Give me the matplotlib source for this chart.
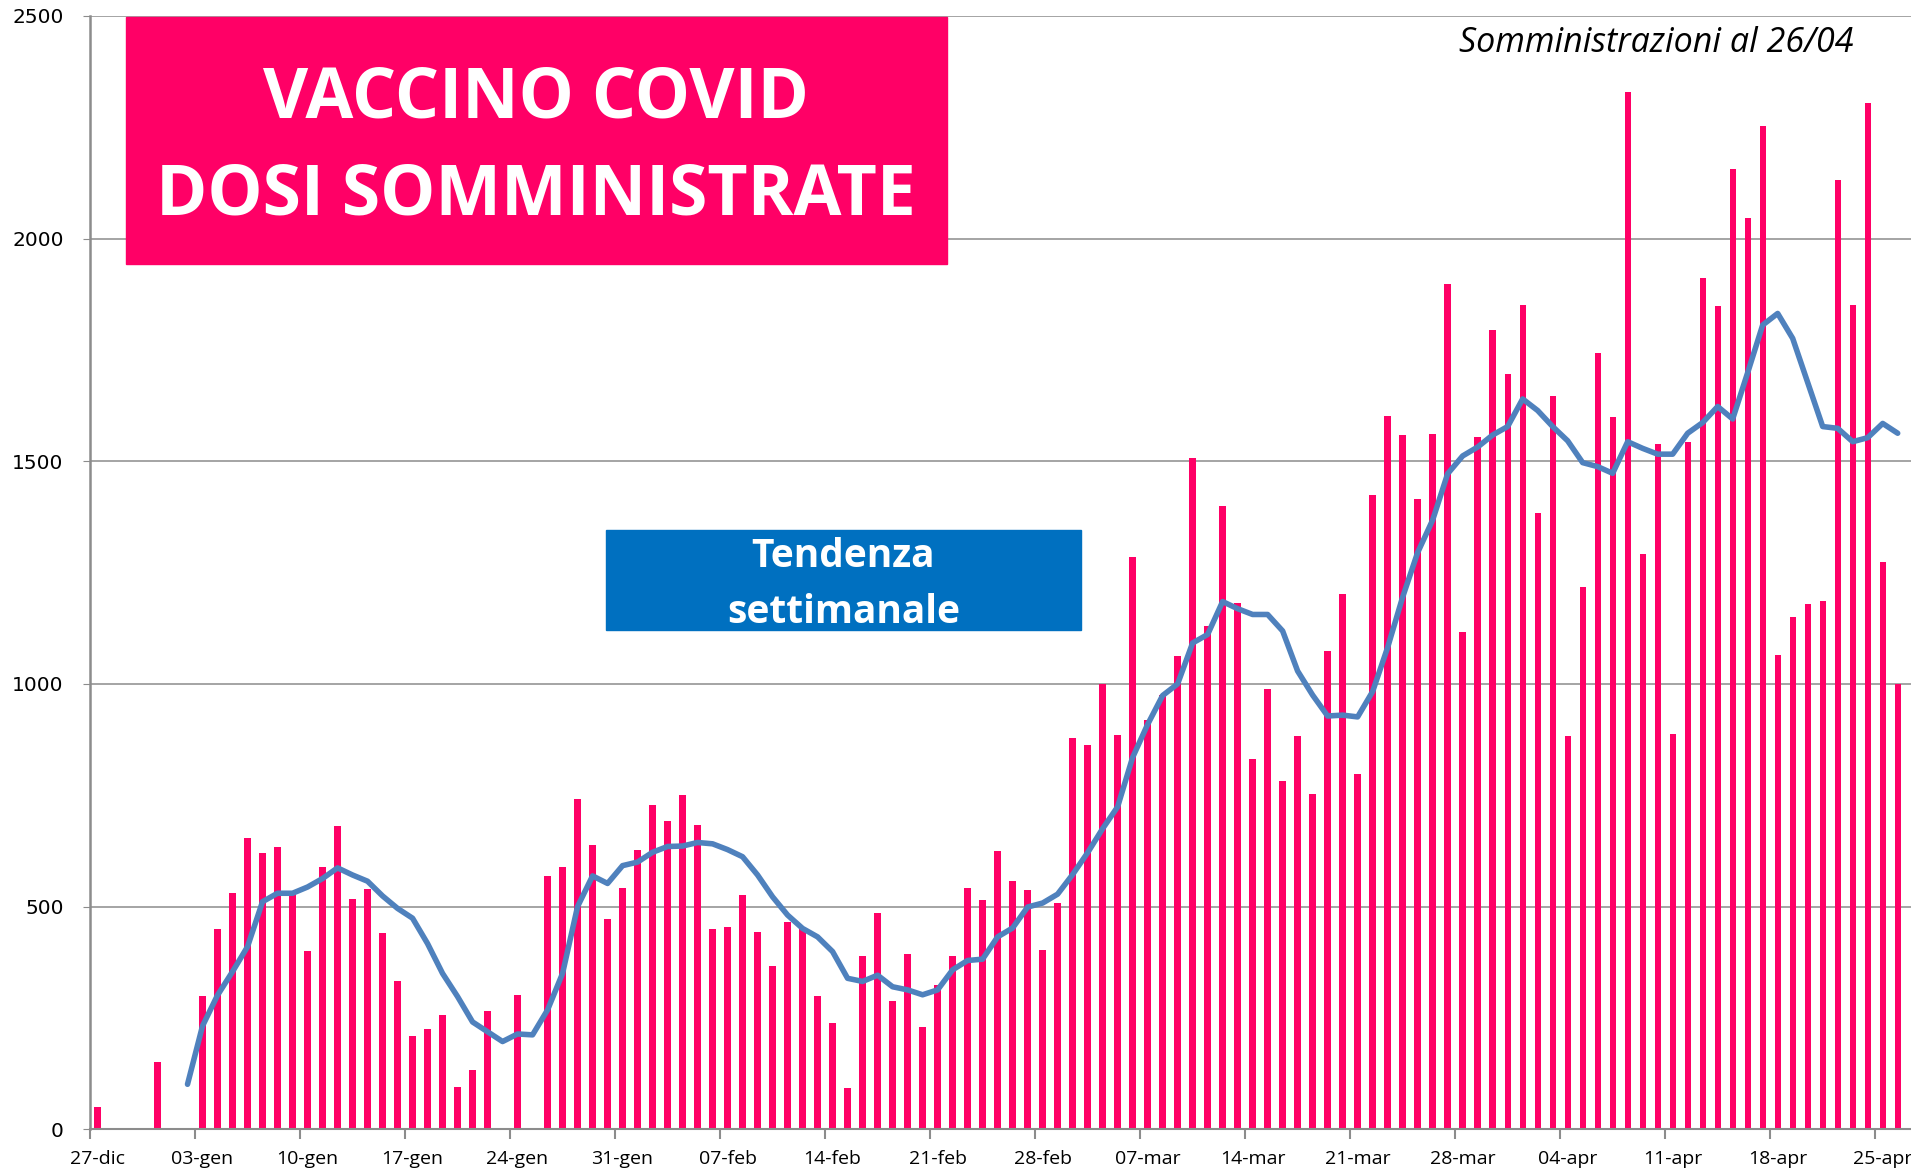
import numpy as np
import matplotlib
matplotlib.use('Agg')
import matplotlib.pyplot as plt
from matplotlib.patches import Rectangle

# daily doses, 27-dic ... 26-apr (121 days)
doses = [50, 0, 0, 0, 150, 0, 0, 300, 450, 530, 653, 620, 634, 530, 400, 590,
         680, 516, 540, 440, 332, 209, 225, 256, 94, 132, 266, 0, 301, 0, 568,
         590, 742, 639, 473, 541, 628, 729, 693, 750, 684, 449, 454, 525, 442,
         367, 465, 452, 299, 238, 93, 388, 485, 287, 393, 230, 324, 390, 542,
         515, 624, 558, 537, 402, 509, 879, 862, 1000, 886, 1286, 920, 975,
         1062, 1507, 1130, 1400, 1181, 831, 988, 783, 883, 752, 1074, 1203,
         797, 1425, 1601, 1560, 1415, 1562, 1899, 1116, 1554, 1794, 1695,
         1852, 1384, 1647, 884, 1217, 1743, 1600, 2329, 1291, 1538, 887,
         1543, 1912, 1848, 2156, 2047, 2252, 1066, 1150, 1180, 1186, 2132,
         1851, 2305, 1274, 1001]

# weekly trend, starts on day 6
trend_start = 6
trend = [101, 232, 301, 354, 410, 511, 530, 530, 544, 563, 587, 571, 557, 524,
         496, 474, 417, 350, 298, 241, 219, 197, 214, 212, 268, 350, 500, 569,
         552, 592, 600, 622, 635, 636, 644, 641, 628, 612, 571, 522, 481, 451,
         432, 399, 339, 332, 346, 320, 313, 302, 313, 358, 379, 382, 432, 452,
         499, 508, 528, 572, 621, 675, 724, 835, 909, 974, 1000, 1092, 1111,
         1185, 1169, 1156, 1156, 1119, 1029, 975, 928, 930, 926, 983, 1082,
         1195, 1295, 1368, 1472, 1512, 1532, 1559, 1578, 1640, 1614, 1578,
         1546, 1497, 1488, 1473, 1544, 1529, 1516, 1516, 1563, 1587, 1623,
         1595, 1699, 1806, 1832, 1776, 1677, 1578, 1574, 1544, 1553, 1585,
         1563]

week_labels = ["27-dic", "03-gen", "10-gen", "17-gen", "24-gen", "31-gen",
               "07-feb", "14-feb", "21-feb", "28-feb", "07-mar", "14-mar",
               "21-mar", "28-mar", "04-apr", "11-apr", "18-apr", "25-apr"]

pink = '#FF0066'
blue_line = '#4F81BD'
grid_gray = '#8C8C8C'

x = np.arange(len(doses))
x_trend = np.arange(trend_start, trend_start + len(trend))

fig = plt.figure(figsize=(19.11, 11.74), dpi=100)
ax = fig.add_axes([0.0471, 0.0381, 0.953, 0.9483])

ax.bar(x, doses, width=0.42, color=pink, zorder=2)
ax.plot(x_trend, trend, color=blue_line, lw=4.0, zorder=3,
        solid_joinstyle='round', solid_capstyle='round')

ax.set_xlim(-0.5, 120.9)
ax.set_ylim(0, 2500)
ax.set_yticks(np.arange(0, 2501, 500))
ax.yaxis.grid(True, color=grid_gray, lw=1.1, zorder=0)
ax.set_axisbelow(True)
ax.tick_params(axis='y', length=5, color=grid_gray, pad=14, labelsize=14.5)
for lab in ax.get_yticklabels():
    lab.set_family('DejaVu Sans')

# labels centred on category, tick marks on the category boundaries
ax.set_xticks(np.arange(0, len(doses), 7))
ax.set_xticklabels(week_labels, family='Open Sans', fontsize=14)
ax.set_xticks(np.arange(-0.5, len(doses), 7), minor=True)
ax.tick_params(axis='x', which='major', length=0, pad=15)
ax.tick_params(axis='x', which='minor', length=7, width=1.5, color=grid_gray)

for side in ['top', 'right']:
    ax.spines[side].set_visible(False)
ax.spines['left'].set_color(grid_gray)
ax.spines['left'].set_linewidth(1.8)
ax.spines['bottom'].set_color(grid_gray)
ax.spines['bottom'].set_linewidth(1.5)

# title box
fig.patches.append(Rectangle((0.0657, 0.7751), 0.4299, 0.2104,
                             transform=fig.transFigure, color=pink, zorder=5))
fig.text(0.2806, 0.915, 'VACCINO COVID', color='white', family='Open Sans',
         weight='bold', fontsize=50, ha='center', va='center', zorder=6)
fig.text(0.2806, 0.833, 'DOSI SOMMINISTRATE', color='white', family='Open Sans',
         weight='bold', fontsize=50, ha='center', va='center', zorder=6)

# trend label box
fig.patches.append(Rectangle((0.3171, 0.4634), 0.2486, 0.0852,
                             transform=fig.transFigure, color='#0070C0', zorder=5))
fig.text(0.4413, 0.526, 'Tendenza', color='white', family='Open Sans',
         weight='bold', fontsize=28, ha='center', va='center', zorder=6)
fig.text(0.4413, 0.478, 'settimanale', color='white', family='Open Sans',
         weight='bold', fontsize=28, ha='center', va='center', zorder=6)

fig.text(0.8668, 0.963, 'Somministrazioni al 26/04', family='Open Sans',
         style='italic', fontsize=24.5, ha='center', va='center')

plt.savefig('out.png', dpi=100)
plt.close()
